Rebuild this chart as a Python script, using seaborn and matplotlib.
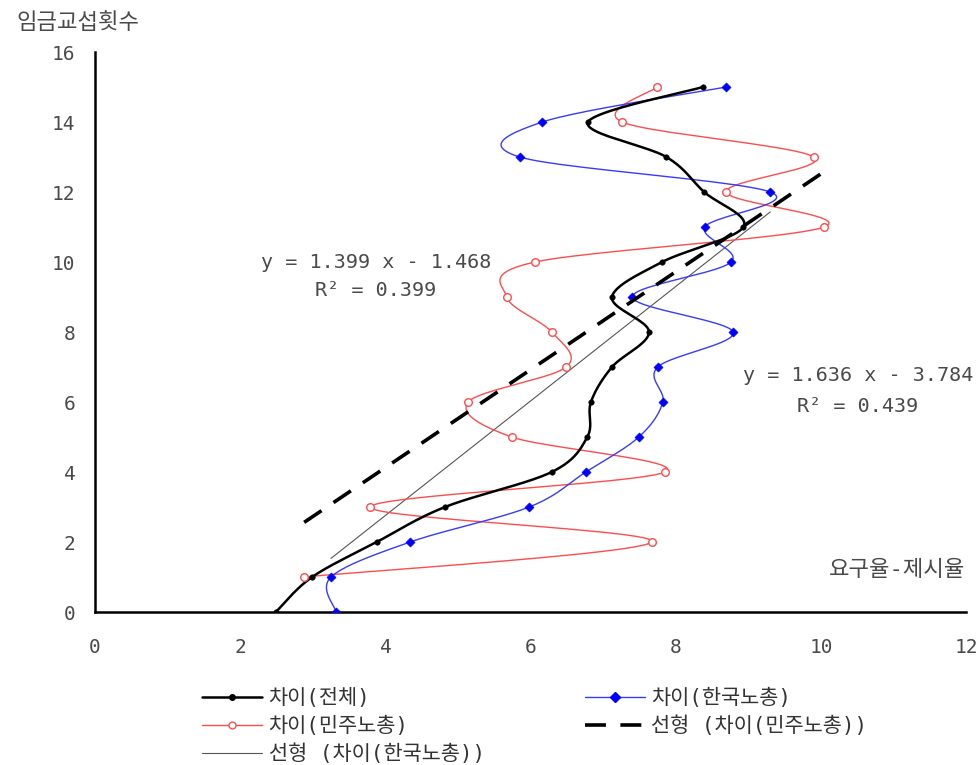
import numpy as np
import pandas as pd
import matplotlib
matplotlib.use("Agg")
import matplotlib.pyplot as plt
from matplotlib.lines import Line2D
import seaborn as sns

# 임금교섭횟수 (y) vs 요구율-제시율 (x)
rounds_total = list(range(16))
gap_total = [2.49, 2.99, 3.88, 4.82, 6.29, 6.78, 6.83, 7.12,
             7.63, 7.12, 7.81, 8.93, 8.39, 7.87, 6.79, 8.37]

rounds_fkti = list(range(16))
gap_fkti = [3.32, 3.25, 4.34, 5.98, 6.76, 7.49, 7.82, 7.75,
            8.79, 7.40, 8.76, 8.40, 9.30, 5.85, 6.16, 8.69]

rounds_kctu = list(range(1, 16))
gap_kctu = [2.88, 7.67, 3.79, 7.85, 5.74, 5.14, 6.49, 6.29,
            5.67, 6.06, 10.04, 8.69, 9.90, 7.26, 7.74]

# trend lines (from the chart labels)
kctu_fit = (1.399, -1.468, 0.399)
fkti_fit = (1.636, -3.784, 0.439)

labels = ["차이(전체)", "차이(한국노총)", "차이(민주노총)",
          "선형 (차이(민주노총))", "선형 (차이(한국노총))"]


def smooth(xs, ys, n=24):
    # excel-like smoothed line (catmull-rom as bezier)
    p = np.column_stack([xs, ys]).astype(float)
    p = np.vstack([p[0], p, p[-1]])
    segs = []
    t = np.linspace(0, 1, n, endpoint=False)[:, None]
    for i in range(1, len(p) - 2):
        p0, p1, p2, p3 = p[i - 1], p[i], p[i + 1], p[i + 2]
        c1 = p1 + (p2 - p0) / 6
        c2 = p2 - (p3 - p1) / 6
        segs.append((1 - t) ** 3 * p1 + 3 * (1 - t) ** 2 * t * c1
                    + 3 * (1 - t) * t ** 2 * c2 + t ** 3 * p2)
    segs.append(p[-2][None])
    s = np.vstack(segs)
    return pd.DataFrame({"x": s[:, 0], "y": s[:, 1]})


sns.set_style("white")
plt.rcParams["font.family"] = ["DejaVu Sans Mono", "Noto Sans CJK KR"]

fig = plt.figure(figsize=(9.8, 7.65), dpi=100)
ax = fig.add_axes([0.097, 0.2, 0.889, 0.732])

red = "#ff4d4d"
blue_line = "#3a3aff"
grey_txt = "#4a4a4a"

# trend lines
kx = np.array([min(gap_kctu), max(gap_kctu)])
fx = np.array([min(gap_fkti), max(gap_fkti)])
sns.lineplot(x=fx, y=fkti_fit[0] * fx + fkti_fit[1], ax=ax, color="#555555",
             lw=0.8, zorder=2)
sns.lineplot(x=kx, y=kctu_fit[0] * kx + kctu_fit[1], ax=ax, color="black",
             lw=2.6, dashes=(5.8, 4.0), zorder=5)

# smoothed series
for xs, ys, col, lw in [(gap_kctu, rounds_kctu, red, 1.0),
                        (gap_fkti, rounds_fkti, blue_line, 1.0),
                        (gap_total, rounds_total, "black", 1.8)]:
    d = smooth(xs, ys)
    sns.lineplot(data=d, x="x", y="y", sort=False, estimator=None, ax=ax,
                 color=col, lw=lw, zorder=3)

sns.scatterplot(x=gap_kctu, y=rounds_kctu, ax=ax, marker="o", s=30,
                facecolor="white", edgecolor=red, linewidth=1.0, zorder=4)
sns.scatterplot(x=gap_fkti, y=rounds_fkti, ax=ax, marker="D", s=22,
                color="#0000ff", edgecolor="#0000ff", zorder=4)
sns.scatterplot(x=gap_total, y=rounds_total, ax=ax, marker="o", s=16,
                color="black", edgecolor="black", zorder=6)

ax.set_xlim(0, 12)
ax.set_ylim(0, 16)
ax.set_xticks(range(0, 13, 2))
ax.set_yticks(range(0, 17, 2))
ax.set_xlabel("")
ax.set_ylabel("")
for s in ["top", "right"]:
    ax.spines[s].set_visible(False)
for s in ["left", "bottom"]:
    ax.spines[s].set_linewidth(1.8)
    ax.spines[s].set_color("black")
ax.tick_params(axis="both", direction="in", length=6, width=1.4,
               colors="black", labelcolor=grey_txt, labelsize=14)
ax.tick_params(axis="x", pad=19)
ax.tick_params(axis="y", pad=14)

txt = dict(color=grey_txt, fontsize=14.5, ha="center", va="center")
ax.text(3.87, 10.0, "y = 1.399 x - 1.468", **txt)
ax.text(3.87, 9.2, "R² = 0.399", **txt)
ax.text(10.51, 6.77, "y = 1.636 x - 3.784", **txt)
ax.text(10.51, 5.86, "R² = 0.439", **txt)

fig.text(0.080, 0.971, "임금교섭횟수", color=grey_txt, fontsize=16,
         ha="center", va="center")
ax.text(11.98, 1.2, "요구율-제시율", color=grey_txt, fontsize=16,
        ha="right", va="center")

handles = [
    Line2D([], [], color="black", lw=1.8, marker="o", ms=4),
    Line2D([], [], color=red, lw=1.0, marker="o", ms=5, mfc="white", mec=red),
    Line2D([], [], color="#555555", lw=0.8),
    Line2D([], [], color=blue_line, lw=1.0, marker="D", ms=5,
           mfc="#0000ff", mec="#0000ff"),
    Line2D([], [], color="black", lw=2.6, dashes=(5.8, 4.0)),
]
order = [labels[0], labels[2], labels[4], labels[1], labels[3]]
leg = fig.legend(handles, order, loc="upper left", ncol=2, frameon=False,
                 bbox_to_anchor=(0.206, 0.101), fontsize=15,
                 handlelength=2.9, handletextpad=0.3, labelspacing=0.37,
                 columnspacing=4.8, borderaxespad=0, borderpad=0)
for t in leg.get_texts():
    t.set_color("#333333")

fig.savefig("out.png", dpi=100)
